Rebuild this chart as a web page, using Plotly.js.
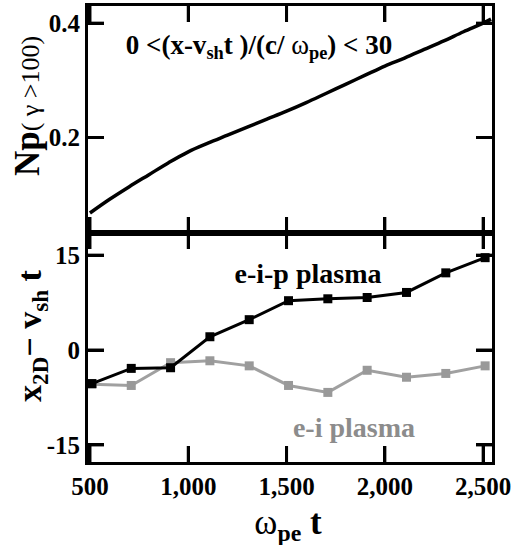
<!DOCTYPE html>
<html>
<head>
<meta charset="utf-8">
<script src="https://cdn.plot.ly/plotly-3.0.1.min.js"></script>
<style>
html,body{margin:0;padding:0;background:#fff;}
#wrap{position:relative;width:514px;height:545px;font-family:'Liberation Serif','Times New Roman',serif;color:#000;}
#top{position:absolute;left:0;top:0;width:514px;height:245px;}
#bottom{position:absolute;left:0;top:221px;width:514px;height:324px;}
.lbl{position:absolute;white-space:nowrap;line-height:1;font-weight:bold;transform:translate(-50%,-50%);z-index:5;}
.rot{transform:translate(-50%,-50%) rotate(-90deg);}
.lbl sub{font-size:0.68em;vertical-align:-0.32em;line-height:0;}
.nw{font-weight:normal;}
#status{position:absolute;left:0;top:0;width:1px;height:1px;overflow:hidden;color:#fff;font-size:1px;}
</style>
</head>
<body>
<div id="wrap">
  <div id="top"></div>
  <div id="bottom"></div>
  <div class="lbl rot" style="left:27px;top:106px;font-size:35px;">Np<span class="nw" style="font-size:26px;">( γ >100)</span></div>
  <div class="lbl rot" style="left:30px;top:336px;font-size:34px;">x<sub>2D</sub>− v<sub>sh</sub> t</div>
  <div class="lbl" style="left:288px;top:522px;font-size:35px;"><span class="nw">ω</span><sub>pe</sub> t</div>
  <div class="lbl" style="left:259px;top:45px;font-size:27px;">0 &lt;(x-v<sub>sh</sub>t )/(c/ <span class="nw">ω</span><sub>pe</sub>) &lt; 30</div>
  <div class="lbl" style="left:308px;top:274px;font-size:28px;">e-i-p plasma</div>
  <div class="lbl" style="left:354px;top:428px;font-size:28px;color:#8c8c8c;">e-i plasma</div>
</div>
<script>
// Top panel: fraction of particles with gamma > 100
const npTime = [500, 600, 700, 800, 900, 1000, 1100, 1200, 1300, 1400, 1500, 1600, 1700, 1800, 1900, 2000, 2100, 2200, 2300, 2400, 2500, 2540];
const npValue = [0.068, 0.092, 0.114, 0.135, 0.156, 0.175, 0.190, 0.204, 0.218, 0.232, 0.246, 0.261, 0.277, 0.293, 0.309, 0.325, 0.339, 0.354, 0.369, 0.385, 0.400, 0.407];

// Bottom panel: shock position offset
const shockTime = [510, 710, 910, 1110, 1310, 1510, 1710, 1910, 2110, 2310, 2510];
const eipOffset = [-5.3, -2.9, -2.8, 2.1, 4.8, 7.8, 8.1, 8.3, 9.1, 12.2, 14.6];
const eiOffset = [-5.4, -5.6, -2.0, -1.7, -2.5, -5.6, -6.7, -3.2, -4.3, -3.7, -2.5];

const xTickVals = [500, 1000, 1500, 2000, 2500];
const xTickText = ['500', '1,000', '1,500', '2,000', '2,500'];
const topTickVals = [0.2, 0.4];
const topTickText = ['0.2', '0.4'];
const bottomTickVals = [-15, 0, 15];
const bottomTickText = ['-15', '0', '15'];

const FONT = 'Liberation Serif';
const X_RANGE = [490, 2545];
const TICK_LEN = 16;

function axisCommon() {
  return {
    showline: true, linewidth: 3, linecolor: '#000', mirror: 'allticks',
    ticks: 'inside', ticklen: TICK_LEN, tickwidth: 3, tickcolor: '#000',
    showgrid: false, zeroline: false,
    tickfont: {family: FONT, size: 25, color: '#000', weight: 'bold'}
  };
}

// tick marks on all four sides, placed through the axes' own scales
function tickShapes(xVals, yVals) {
  const s = [];
  const ln = {color: '#000', width: 3};
  xVals.forEach(function (v) {
    s.push({type: 'line', xref: 'x', yref: 'paper', ysizemode: 'pixel', yanchor: 0, x0: v, x1: v, y0: 0, y1: TICK_LEN, line: ln, layer: 'above'});
    s.push({type: 'line', xref: 'x', yref: 'paper', ysizemode: 'pixel', yanchor: 1, x0: v, x1: v, y0: 0, y1: -TICK_LEN, line: ln, layer: 'above'});
  });
  yVals.forEach(function (v) {
    s.push({type: 'line', xref: 'paper', yref: 'y', xsizemode: 'pixel', xanchor: 0, x0: 0, x1: TICK_LEN, y0: v, y1: v, line: ln, layer: 'above'});
    s.push({type: 'line', xref: 'paper', yref: 'y', xsizemode: 'pixel', xanchor: 1, x0: 0, x1: -TICK_LEN, y0: v, y1: v, line: ln, layer: 'above'});
  });
  return s;
}

const topTraces = [
  {x: npTime, y: npValue, mode: 'lines', line: {color: '#000', width: 3.5, shape: 'spline', smoothing: 1}, showlegend: false}
];
const topLayout = {
  width: 514, height: 245,
  margin: {l: 88, r: 22, t: 6, b: 12},
  font: {family: FONT, color: '#000'},
  paper_bgcolor: 'rgba(0,0,0,0)', plot_bgcolor: 'rgba(0,0,0,0)',
  xaxis: Object.assign(axisCommon(), {range: X_RANGE, tickvals: xTickVals, ticktext: xTickText, showticklabels: false}),
  yaxis: Object.assign(axisCommon(), {range: [0.033, 0.43], tickvals: topTickVals, ticktext: topTickText}),
  shapes: tickShapes(xTickVals, topTickVals)
};

const bottomTraces = [
  {x: shockTime, y: eiOffset, mode: 'lines+markers', line: {color: '#a0a0a0', width: 3}, marker: {symbol: 'square', size: 9, color: '#999999'}, showlegend: false},
  {x: shockTime, y: eipOffset, mode: 'lines+markers', line: {color: '#000', width: 3}, marker: {symbol: 'square', size: 9, color: '#000'}, showlegend: false}
];
const bottomLayout = {
  width: 514, height: 324,
  margin: {l: 88, r: 22, t: 12, b: 83},
  font: {family: FONT, color: '#000'},
  paper_bgcolor: 'rgba(0,0,0,0)', plot_bgcolor: 'rgba(0,0,0,0)',
  xaxis: Object.assign(axisCommon(), {range: X_RANGE, tickvals: xTickVals, ticktext: xTickText}),
  yaxis: Object.assign(axisCommon(), {range: [-17.7, 18.5], tickvals: bottomTickVals, ticktext: bottomTickText}),
  shapes: tickShapes(xTickVals, bottomTickVals)
};

const cfg = {displayModeBar: false};
function draw() {
  return Promise.all([
    Plotly.react('top', topTraces, topLayout, cfg),
    Plotly.react('bottom', bottomTraces, bottomLayout, cfg)
  ]);
}
draw().then(function () {
  document.getElementById('wrap').setAttribute('data-drawn', '1');
  const st = document.createElement('div');
  st.id = 'status';
  st.textContent = '.';
  document.body.appendChild(st);
  if (document.fonts && document.fonts.load) {
    document.fonts.load('bold 25px "Liberation Serif"').then(function () {
      Plotly.relayout('top', {});
      Plotly.relayout('bottom', {});
    });
  }
});
</script>
</body>
</html>
